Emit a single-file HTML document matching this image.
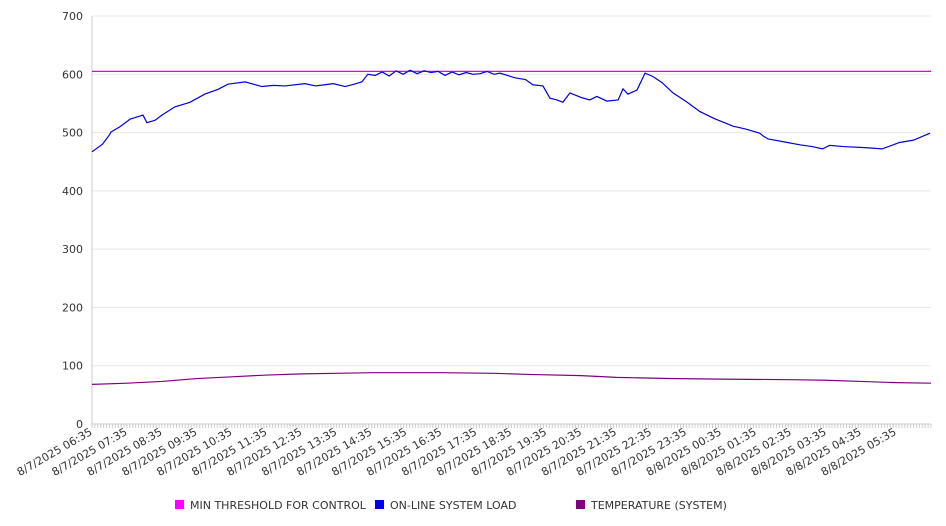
<!DOCTYPE html>
<html><head><meta charset="utf-8"><style>
body{margin:0;background:#fff}
svg{display:block;font-family:"DejaVu Sans","Liberation Sans",sans-serif}
</style></head><body>
<svg id="chart" width="946" height="526" viewBox="0 0 946 526"></svg>
<script>
const yTicks=[0,100,200,300,400,500,600,700];
const xLabels=["8/7/2025 06:35","8/7/2025 07:35","8/7/2025 08:35","8/7/2025 09:35","8/7/2025 10:35","8/7/2025 11:35","8/7/2025 12:35","8/7/2025 13:35","8/7/2025 14:35","8/7/2025 15:35","8/7/2025 16:35","8/7/2025 17:35","8/7/2025 18:35","8/7/2025 19:35","8/7/2025 20:35","8/7/2025 21:35","8/7/2025 22:35","8/7/2025 23:35","8/8/2025 00:35","8/8/2025 01:35","8/8/2025 02:35","8/8/2025 03:35","8/8/2025 04:35","8/8/2025 05:35"];
const thresholdValue=605;
const loadHours=[0,0.3,0.51,0.54,0.8,1.09,1.46,1.57,1.8,2.0,2.37,2.8,3.23,3.6,3.89,4.38,4.86,5.2,5.52,6.09,6.4,6.66,6.9,7.24,7.5,7.72,7.89,8.1,8.3,8.5,8.7,8.9,9.1,9.3,9.5,9.7,9.9,10.1,10.3,10.5,10.7,10.9,11.1,11.3,11.5,11.67,12.1,12.4,12.61,12.9,13.1,13.3,13.47,13.67,14.0,14.24,14.44,14.73,15.05,15.19,15.33,15.59,15.82,16.05,16.3,16.62,17.0,17.39,17.8,18.34,18.7,19.1,19.2,19.34,19.8,20.25,20.6,20.9,21.1,21.5,22.17,22.6,23.1,23.5,23.97];
const loadValues=[467,480,497,501,510,523,530,517,521,530,544,552,566,574,583,587,579,581,580,584,580,582,584,579,583,587,600,598,604,597,606,600,607,601,606,603,605,598,604,599,603,600,601,605,600,602,594,591,582,580,559,556,552,568,560,556,562,554,556,575,566,573,602,596,586,568,553,536,524,511,506,499,494,489,484,479,476,472,478,476,474,472,483,487,499];
const tempHours=[0,1,2,3,4,5,6,7,8,10,11.5,12.5,14,15,16.5,18,20,21,22,23,24];
const tempValues=[68,70,73,78,81,84,86,87,88,88,87,85,83,80,78,77,76,75,73,71,70];

const svg=document.getElementById('chart');
const NS='http://www.w3.org/2000/svg';
const X0=92,X1=931,Y0=424,Y1=16,HOURS=24;
const xs=h=>X0+h*(X1-X0)/HOURS;
const ys=v=>Y0-v*(Y0-Y1)/700;
function mk(t,a,p){const e=document.createElementNS(NS,t);for(const k in a)e.setAttribute(k,a[k]);(p||svg).appendChild(e);return e;}

yTicks.forEach(v=>{
  const g=mk('line',{x1:X0,x2:X1,y1:ys(v),y2:ys(v),stroke:v===0?'#ccc':'#e8e8e8','stroke-width':1});
  
  
  const t=mk('text',{x:83,y:ys(v)+4,'text-anchor':'end','font-size':11,fill:'#333'});
  t.textContent=v;
  
  
});
const ax=mk('line',{x1:X0,x2:X0,y1:Y1,y2:Y0,stroke:'#ccc'});


for(let i=0;i<=HOURS*12;i++){
  const tk=mk('line',{x1:xs(i/12),x2:xs(i/12),y1:Y0,y2:Y0+4,stroke:'#ccc'});
  
  
}
xLabels.forEach((l,i)=>{
  const x=xs(i)+1,y=Y0+10;
  const t=mk('text',{x:x,y:y,'text-anchor':'end','font-size':11,fill:'#333',transform:`rotate(-30 ${x} ${y})`});
  t.textContent=l;
  
  
});
const th=mk('line',{x1:X0,x2:X1,y1:ys(thresholdValue),y2:ys(thresholdValue),stroke:'#e000e0','stroke-width':1.2});


const lp=mk('polyline',{points:loadHours.map((h,i)=>xs(h)+','+ys(loadValues[i])).join(' '),fill:'none',stroke:'#0000dd','stroke-width':1.2});


const tp=mk('polyline',{points:tempHours.map((h,i)=>xs(h)+','+ys(tempValues[i])).join(' '),fill:'none',stroke:'#800080','stroke-width':1.2});



const legend=[["MIN THRESHOLD FOR CONTROL","#ff00ff",175],["ON-LINE SYSTEM LOAD","#0000ee",375],["TEMPERATURE (SYSTEM)","#800080",576]];
legend.forEach(([n,c,x])=>{
  const g=mk('g',{});
  
  
  mk('rect',{x:x,y:500,width:9,height:9,fill:c},g);
  const t=mk('text',{x:x+15,y:509,'font-size':11,fill:'#333'},g);
  t.textContent=n;
});
</script>
</body></html>
